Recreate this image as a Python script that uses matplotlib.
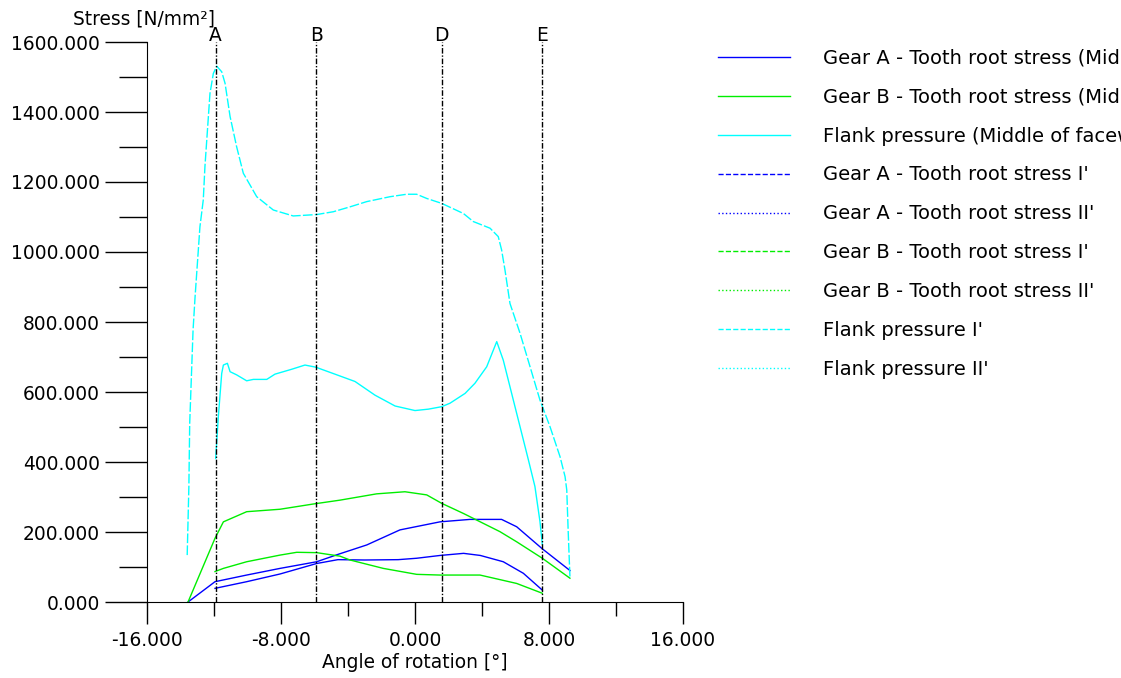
import matplotlib
matplotlib.use("Agg")
import matplotlib.pyplot as plt
from matplotlib.lines import Line2D
from matplotlib.ticker import MultipleLocator, FormatStrFormatter

# marker positions (angle of rotation)
marker_names = ["A", "B", "D", "E"]
marker_pos = [-11.9, -5.9, 1.6, 7.6]

# Gear A - tooth root stress, full range curve
gear_a_1_x = [-13.55, -11.94, -10.05, -8.06, -5.87, -4.6, -2.88, -0.9, 1.49, 3.28, 5.17, 6.07, 7.6, 9.25]
gear_a_1_y = [0, 58, 77, 96, 115, 136, 163, 206, 229, 236, 236, 215, 152, 90]
# Gear A - tooth root stress, A..E curve
gear_a_2_x = [-11.94, -10.05, -8.06, -5.87, -4.6, -3.0, -1.0, 0.1, 1.5, 2.9, 3.9, 5.27, 6.47, 7.6]
gear_a_2_y = [39, 58, 80, 110, 121, 120, 121, 125, 133, 139, 133, 115, 82, 34]

# Gear B - tooth root stress
gear_b_1_x = [-13.55, -11.94, -11.44, -10.05, -8.06, -6.07, -4.48, -2.29, -0.6, 0.7, 1.59, 2.89, 5.07, 6.07, 7.6, 9.25]
gear_b_1_y = [0, 182, 229, 258, 265, 280, 291, 309, 315, 306, 282, 253, 201, 172, 125, 68]
gear_b_2_x = [-11.94, -11.44, -10.05, -8.06, -7.06, -5.87, -4.48, -3.88, -1.89, 0.1, 1.49, 3.88, 6.07, 7.6]
gear_b_2_y = [87, 96, 115, 134, 142, 141, 131, 120, 96, 79, 77, 77, 53, 25]

# Flank pressure, middle of facewidth
flank_mid_x = [-11.9, -11.74, -11.54, -11.44, -11.2, -11.04, -10.65, -10.05, -9.65, -8.85, -8.36,
               -7.36, -6.57, -5.93, -4.78, -3.58, -2.39, -1.19, 0.0, 0.8, 1.59, 2.09, 2.99, 3.58,
               4.28, 4.88, 5.27, 5.77, 6.27, 6.77, 7.16, 7.46, 7.6]
flank_mid_y = [410, 530, 653, 677, 682, 658, 649, 632, 636, 636, 651,
               665, 677, 671, 651, 630, 591, 560, 547, 551, 558, 568, 596, 625,
               672, 744, 691, 596, 501, 406, 330, 230, 165]

# Flank pressure I'
flank_i_x = [-13.6, -13.5, -13.45, -13.25, -13.13, -12.84, -12.64, -12.54, -12.24, -12.04, -11.84,
             -11.54, -11.34, -11.04, -10.65, -10.25, -9.45, -8.46, -7.27, -5.87, -4.88, -3.88,
             -2.88, -1.49, -0.5, 0.1, 0.7, 1.59, 2.89, 3.48, 4.48, 4.97, 5.17, 5.37, 5.67, 6.27,
             6.87, 7.46, 8.06, 8.66, 8.96, 9.06, 9.15, 9.25]
flank_i_y = [134, 330, 511, 777, 872, 1072, 1149, 1245, 1453, 1510, 1531,
             1515, 1482, 1387, 1301, 1225, 1158, 1120, 1103, 1107, 1115, 1129,
             1144, 1158, 1165, 1165, 1153, 1139, 1110, 1087, 1068, 1044, 1006, 949, 853, 768,
             672, 577, 501, 415, 358, 320, 196, 72]

legend_labels = [
    "Gear A - Tooth root stress (Middle of facewidth)",
    "Gear B - Tooth root stress (Middle of facewidth)",
    "Flank pressure (Middle of facewidth)",
    "Gear A - Tooth root stress I'",
    "Gear A - Tooth root stress II'",
    "Gear B - Tooth root stress I'",
    "Gear B - Tooth root stress II'",
    "Flank pressure I'",
    "Flank pressure II'",
]
legend_colors = ["#0000ff", "#00ee00", "#00ffff", "#0000ff", "#0000ff", "#00ee00", "#00ee00", "#00ffff", "#00ffff"]
legend_styles = ["solid", "solid", "solid", "dashed", "dotted", "dashed", "dotted", "dashed", "dotted"]

FS = 13.4
LFS = 14
plt.rcParams["font.family"] = "DejaVu Sans"

fig = plt.figure(figsize=(11.21, 6.78), dpi=100)
ax = fig.add_axes([147 / 1121, 76 / 678, 536 / 1121, 560 / 678])

ax.plot(gear_a_1_x, gear_a_1_y, color="#0000ff", lw=1.0)
ax.plot(gear_a_2_x, gear_a_2_y, color="#0000ff", lw=1.0)
ax.plot(gear_b_1_x, gear_b_1_y, color="#00ee00", lw=1.0)
ax.plot(gear_b_2_x, gear_b_2_y, color="#00ee00", lw=1.0)
ax.plot(flank_mid_x, flank_mid_y, color="#00ffff", lw=1.0)
ax.plot(flank_i_x, flank_i_y, color="#00ffff", lw=1.0, dashes=(7, 1.6))

for name, pos in zip(marker_names, marker_pos):
    ax.vlines(pos, 0, 1600, colors="black", lw=1.0, linestyles=[(0, (4, 1.3, 1, 1.3))])
    ax.text(pos, 1603, name, ha="center", va="baseline", fontsize=FS, clip_on=False)

ax.set_xlim(-16, 16)
ax.set_ylim(0, 1600)
ax.spines["top"].set_visible(False)
ax.spines["right"].set_visible(False)
ax.xaxis.set_major_locator(MultipleLocator(8))
ax.xaxis.set_minor_locator(MultipleLocator(4))
ax.yaxis.set_major_locator(MultipleLocator(200))
ax.yaxis.set_minor_locator(MultipleLocator(100))
ax.xaxis.set_major_formatter(FormatStrFormatter("%.3f"))
ax.yaxis.set_major_formatter(FormatStrFormatter("%.3f"))
ax.tick_params(axis="y", which="major", length=30, width=1.0, pad=4, labelsize=FS)
ax.tick_params(axis="y", which="minor", length=20, width=1.0)
ax.tick_params(axis="x", which="major", length=16, width=1.0, pad=5, labelsize=FS)
ax.tick_params(axis="x", which="minor", length=10, width=1.0)

fig.text(415 / 1121, 1 - 662 / 678, "Angle of rotation [°]", ha="center", va="center", fontsize=FS)
fig.text(73 / 1121, 1 - 19 / 678, "Stress [N/mm²]", ha="left", va="center", fontsize=FS)

handles = [Line2D([], [], color=c, ls=s, lw=1.0) for c, s in zip(legend_colors, legend_styles)]
fig.legend(handles, legend_labels, loc="upper left", bbox_to_anchor=(718 / 1121, 1 - 49 / 678),
           frameon=False, fontsize=LFS, handlelength=3.7, handletextpad=1.7,
           labelspacing=1.02, borderpad=0, borderaxespad=0)

fig.savefig("out.png", dpi=100)
